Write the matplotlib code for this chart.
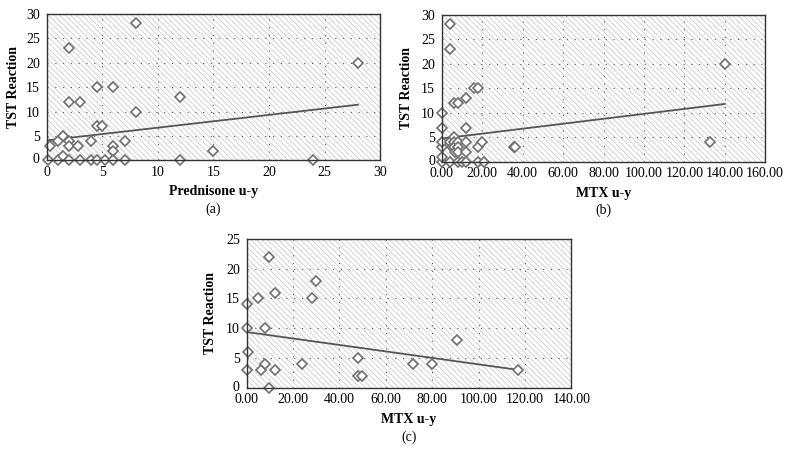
#!/usr/bin/env python3

import numpy as np
import matplotlib
matplotlib.use('Agg')
import matplotlib.pyplot as plt
import matplotlib.transforms as mtransforms
from matplotlib.patches import Rectangle
from matplotlib.ticker import FormatStrFormatter

plt.rcParams['font.family'] = ['Liberation Serif', 'DejaVu Serif']
plt.rcParams['hatch.color'] = '#cdcdcd'
plt.rcParams['hatch.linewidth'] = 0.6

# (a) prednisone
pred_x = [0.15, 0.3, 1, 1, 1.5, 1.5, 2, 2, 2, 2, 2, 2.8, 3, 3, 4, 4, 4.5, 4.5, 4.5,
          5, 5.2, 6, 6, 6, 6, 7, 7, 8, 8, 12, 12, 15, 24, 28]
pred_y = [0, 3, 0, 4, 5, 1, 23, 12, 4, 3, 0, 3, 12, 0, 4, 0, 15, 7, 0,
          7, 0, 15, 3, 2, 0, 4, 0, 28, 10, 13, 0, 2, 0, 20]
pred_fit_x = [0, 28]
pred_fit_y = [4.1, 11.4]

# (b) MTX
mtx_x = [0, 0, 0, 0, 0, 0, 4.1, 4.1, 4.1, 4.1, 5, 5.8, 6, 6, 6, 6.6, 7.9, 7.9,
         8.2, 8.2, 8.2, 10, 12, 12, 12, 12, 12, 16, 18, 18, 18, 20, 21, 35.5, 36.3,
         132.5, 140]
mtx_y = [0, 1, 3, 4, 7, 10, 28, 23, 4, 0, 3, 12, 5, 4, 3, 2, 12, 4,
         3, 2, 0, 0, 13, 7, 4, 2, 0, 15, 15, 3, 0, 4, 0, 3, 3,
         4, 20]
mtx_fit_x = [0, 140]
mtx_fit_y = [4.75, 11.8]

# (c) MTX subgroup
sub_x = [0, 0.4, 0, 0, 5, 6, 8, 8, 9.8, 9.8, 12, 12, 24, 28, 29.7,
         47.8, 47.8, 49.9, 71.8, 79.9, 90.7, 116.8]
sub_y = [3, 6, 10, 14, 15, 3, 10, 4, 22, 0, 16, 3, 4, 15, 18,
         5, 2, 2, 4, 4, 8, 3]
sub_fit_x = [0, 117]
sub_fit_y = [9.36, 3.0]


def draw_panel(ax, x, y, fit_x, fit_y, xmax, xstep, ymax, xlabel, letter, fmt, ylab_x):
    # hatched background like the original spreadsheet plot area
    ax.add_patch(Rectangle((0, 0), 1, 1, transform=ax.transAxes, facecolor='white',
                           hatch='\\\\\\\\\\\\', edgecolor='#cdcdcd', linewidth=0, zorder=0))
    ax.set_xlim(0, xmax)
    ax.set_ylim(0, ymax)
    ax.set_xticks(np.arange(0, xmax + 0.1, xstep))
    ax.set_yticks(np.arange(0, ymax + 0.1, 5))
    if fmt:
        ax.xaxis.set_major_formatter(FormatStrFormatter(fmt))
    ax.grid(True, linestyle=(0, (1, 6)), color='#555555', linewidth=0.8, zorder=1)
    ax.plot(fit_x, fit_y, color='#555555', linewidth=1.3, zorder=3)
    ax.plot(x, y, linestyle='none', marker='D', markersize=5, markerfacecolor='white',
            markeredgecolor='#707070', markeredgewidth=1.2, clip_on=False, zorder=4)
    for s in ax.spines.values():
        s.set_color('#333333')
        s.set_linewidth(1.0)
        s.set_zorder(5)
    ax.tick_params(length=0, labelsize=10)
    ax.tick_params(axis='x', pad=4)
    ax.tick_params(axis='y', pad=5)
    # nudge the y "0" up a touch so it clears the x labels in the corner
    t0 = ax.yaxis.get_major_ticks()[0].label1
    t0.set_transform(t0.get_transform() +
                     mtransforms.ScaledTranslation(0, 1.5 / 72, ax.figure.dpi_scale_trans))
    ax.set_xlabel(xlabel, fontsize=10, fontweight='bold')
    ax.xaxis.set_label_coords(0.5, -0.17)
    ax.set_ylabel('TST Reaction', fontsize=10, fontweight='bold')
    ax.yaxis.set_label_coords(ylab_x, 0.5)
    ax.text(0.5, -0.33, letter, transform=ax.transAxes, ha='center', va='center', fontsize=10)


fig = plt.figure(figsize=(7.92, 4.72), dpi=100)
ax_a = fig.add_axes([0.059, 0.660, 0.421, 0.311])
ax_b = fig.add_axes([0.558, 0.657, 0.408, 0.312])
ax_c = fig.add_axes([0.3115, 0.1786, 0.410, 0.315])

draw_panel(ax_a, pred_x, pred_y, pred_fit_x, pred_fit_y, 30, 5, 30,
           'Prednisone u-y', '(a)', None, -0.080)
draw_panel(ax_b, mtx_x, mtx_y, mtx_fit_x, mtx_fit_y, 160, 20, 30,
           'MTX u-y', '(b)', '%.2f', -0.089)
draw_panel(ax_c, sub_x, sub_y, sub_fit_x, sub_fit_y, 140, 20, 25,
           'MTX u-y', '(c)', '%.2f', -0.091)

plt.savefig('out.png', dpi=100)
